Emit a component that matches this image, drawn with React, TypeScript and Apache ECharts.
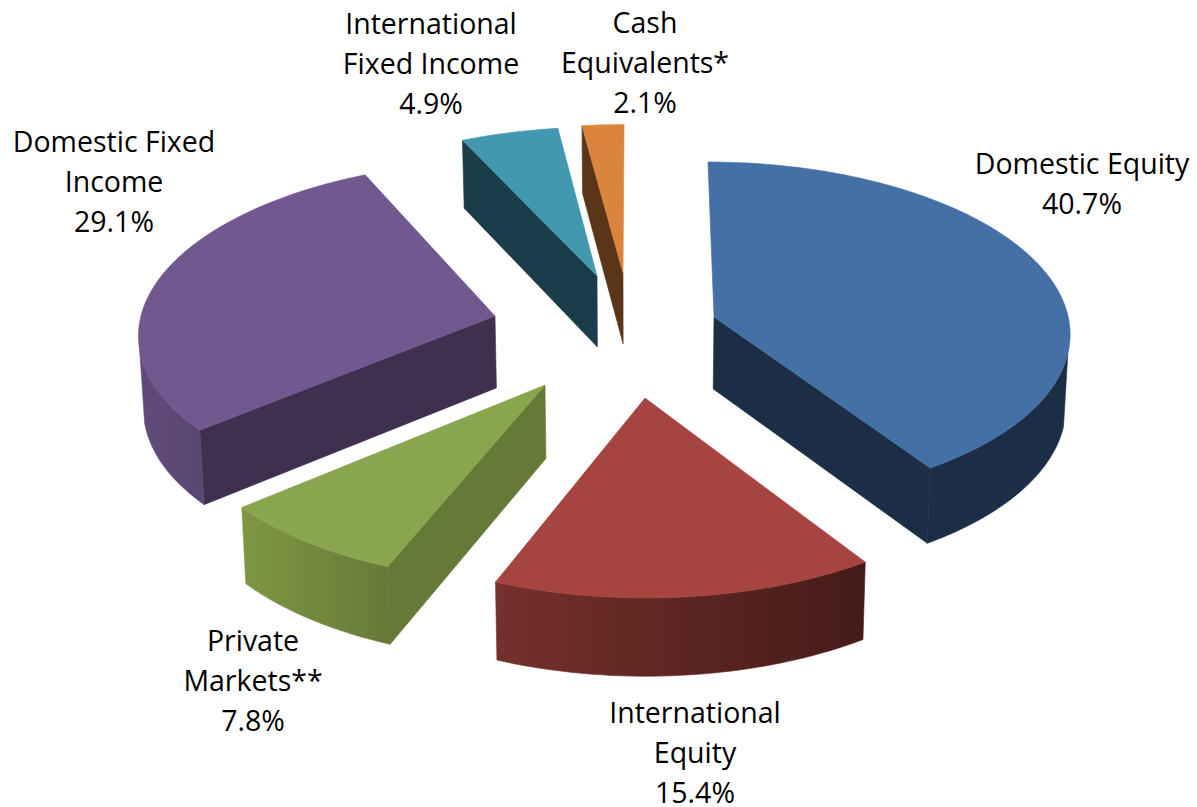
import React, { useEffect, useRef } from "react";
import * as echarts from "echarts";

// Portfolio allocation, percent of total, clockwise from twelve o'clock.
const categories = [
  "Domestic Equity",
  "International Equity",
  "Private Markets**",
  "Domestic Fixed Income",
  "International Fixed Income",
  "Cash Equivalents*",
];
const allocation = [40.7, 15.4, 7.8, 29.1, 4.9, 2.1];

const topColors = ["#4470a6", "#a64441", "#89a54e", "#71588f", "#4198af", "#db843d"];
const wallColors = ["#1b2e45", "#451b18", "#667a37", "#3f3050", "#1b3d49", "#5a3518"];
// Rim shading: colour at the left and right ends of the curved wall.
const rimLeft = ["#1b2e45", "#75302c", "#7d9844", "#614b7c", "#1b3d49", "#5a3518"];
const rimRight = ["#1b2e45", "#451b18", "#667a37", "#5a4672", "#1b3d49", "#5a3518"];

// Screen position of each exploded slice's point.
const apexX = [714, 645, 545, 495, 597, 623];
const apexY = [317, 398, 385, 316, 276, 273];

// Camera model: horizon, vanishing point, disc radius and thickness.
const HORIZON = -1662;
const VANISH_X = 637;
const RADIUS_X = 0.179;
const RADIUS_DEPTH = 0.04294;
const WALL_DROP_BASE = 26.8;
const WALL_DROP_SLOPE = 0.0228;
const WALL_SHRINK = 0.99;

const labelLines = [
  ["Domestic Equity", "40.7%"],
  ["International", "Equity", "15.4%"],
  ["Private", "Markets**", "7.8%"],
  ["Domestic Fixed", "Income", "29.1%"],
  ["International", "Fixed Income", "4.9%"],
  ["Cash", "Equivalents*", "2.1%"],
];
const labelX = [1082, 695, 253, 114, 431, 645];
const labelY = [163, 712, 640, 141, 23, 22];
const LINE_STEP = 40;

type Pt = [number, number];

const project = (index: number, theta: number): Pt => {
  const ta = apexY[index] - HORIZON;
  const depth = 1000 / ta + RADIUS_DEPTH * Math.cos(theta);
  const lateral = (apexX[index] - VANISH_X) / ta + RADIUS_X * Math.sin(theta);
  const t = 1000 / depth;
  return [VANISH_X + lateral * t, HORIZON + t];
};

const lower = ([x, y]: Pt): Pt => [
  VANISH_X + (x - VANISH_X) * WALL_SHRINK,
  y + WALL_DROP_BASE + (y - HORIZON) * WALL_DROP_SLOPE,
];

const renderSlice = (params: any, api: any) => {
  const i = params.dataIndex;
  const total = allocation.reduce((a, b) => a + b, 0);
  const before = allocation.slice(0, i).reduce((a, b) => a + b, 0);
  const start = (before / total) * Math.PI * 2;
  const end = start + (api.value(0) / total) * Math.PI * 2;

  const steps = Math.max(6, Math.ceil((end - start) * 40));
  const angles: number[] = [];
  for (let s = 0; s <= steps; s++) angles.push(start + ((end - start) * s) / steps);
  const arc: Pt[] = angles.map((a) => project(i, a));

  const apex: Pt = [apexX[i], apexY[i]];
  const apexLow = lower(apex);
  const first = arc[0];
  const last = arc[arc.length - 1];

  const poly = (points: Pt[], fill: any) => ({
    type: "polygon",
    shape: { points },
    style: { fill, stroke: fill, lineWidth: 0.6 },
  });

  const children: any[] = [];

  // Straight cut faces, only where they turn towards the viewer.
  if (Math.sin(start) < -1e-6) {
    children.push(poly([apex, first, lower(first), apexLow], wallColors[i]));
  }
  if (Math.sin(end) > 1e-6) {
    children.push(poly([apex, last, lower(last), apexLow], wallColors[i]));
  }

  // Curved wall: the front-facing stretch of the rim.
  const rim = angles.filter((a) => Math.cos(a) <= -0.2).map((a) => project(i, a));
  if (rim.length > 1) {
    const xs = rim.map((p) => p[0]);
    const rimFill = new echarts.graphic.LinearGradient(
      Math.min(...xs), 0, Math.max(...xs), 0,
      [
        { offset: 0, color: rimLeft[i] },
        { offset: 1, color: rimRight[i] },
      ],
      true
    );
    children.push(poly([...rim, ...rim.map(lower).reverse()], rimFill));
  }

  children.push(poly([apex, ...arc], topColors[i]));
  return { type: "group", children };
};

export default function App() {
  const ref = useRef<HTMLDivElement>(null);

  useEffect(() => {
    document.body.style.margin = "0";
    const chart = echarts.init(ref.current!, undefined, { renderer: "svg" });
    chart.setOption({
      animation: false,
      backgroundColor: "#ffffff",
      series: [
        {
          type: "custom",
          coordinateSystem: "none",
          silent: true,
          renderItem: renderSlice,
          data: allocation.map((value, i) => ({ name: categories[i], value: [value] })),
        },
      ],
      graphic: labelLines.flatMap((lines, i) =>
        lines.map((text, k) => ({
          type: "text",
          x: labelX[i],
          y: labelY[i] + k * LINE_STEP,
          silent: true,
          style: {
            text,
            fill: "#000000",
            font: '28.5px "Open Sans"',
            textAlign: "center",
            textVerticalAlign: "middle",
          },
        }))
      ),
    });
    return () => chart.dispose();
  }, []);

  return <div ref={ref} style={{ width: 1197, height: 807 }} />;
}
